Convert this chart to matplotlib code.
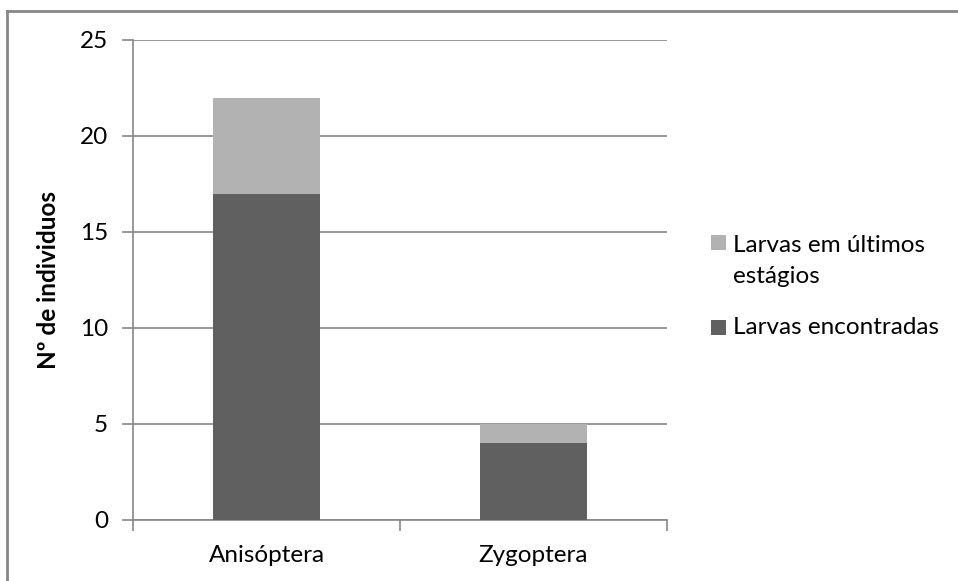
import matplotlib
matplotlib.use("Agg")
import matplotlib.pyplot as plt
from matplotlib.patches import Rectangle
from matplotlib.lines import Line2D

categories = ["Anisóptera", "Zygoptera"]
larvas_encontradas = [17, 4]
larvas_ultimos = [5, 1]
series_labels = ["Larvas encontradas", "Larvas em últimos\nestágios"]
y_ticks = [0, 5, 10, 15, 20, 25]

dark = "#606060"
light = "#b2b2b2"
line_grey = "#878787"
fs = 17.5

plt.rcParams["font.family"] = ["Lato", "DejaVu Sans"]

W, H = 958, 581
fig = plt.figure(figsize=(W / 100, H / 100), dpi=100)
ax = fig.add_axes([133 / W, 1 - 520 / H, (667 - 133) / W, (520 - 40) / H])

x = list(range(len(categories)))
ax.bar(x, larvas_encontradas, width=0.4, color=dark, zorder=3)
ax.bar(x, larvas_ultimos, width=0.4, bottom=larvas_encontradas, color=light, zorder=3)

ax.set_xlim(-0.5, len(categories) - 0.5)
ax.set_ylim(0, 25)
ax.set_yticks(y_ticks)
ax.yaxis.grid(True, color=line_grey, linewidth=1.2, zorder=0)
ax.tick_params(axis="y", length=8, width=1.2, color=line_grey, pad=10, labelsize=fs)

ax.set_xticks([i - 0.5 for i in range(len(categories) + 1)])
ax.set_xticklabels([])
ax.set_xticks(x, minor=True)
ax.set_xticklabels(categories, minor=True)
ax.tick_params(axis="x", which="major", length=8, width=1.2, color=line_grey)
ax.tick_params(axis="x", which="minor", length=0, pad=18, labelsize=fs)

for side in ["top", "right"]:
    ax.spines[side].set_visible(False)
for side in ["left", "bottom"]:
    ax.spines[side].set_color(line_grey)
    ax.spines[side].set_linewidth(1.2)

ax.set_ylabel("Nº de individuos", fontsize=fs, fontweight="bold")
ax.yaxis.set_label_coords(60 / W, 1 - 280 / H, transform=fig.transFigure)

# legend: square markers with labels, light series on top
sq = 15
legend_rows = [(light, series_labels[1], 242, 261), (dark, series_labels[0], 327, 327)]
for color, label, sq_y, text_y in legend_rows:
    fig.add_artist(Rectangle((711 / W, 1 - (sq_y + sq / 2) / H), sq / W, sq / H,
                             facecolor=color, edgecolor="none",
                             transform=fig.transFigure))
    fig.text(733 / W, 1 - text_y / H, label, fontsize=fs, va="center", ha="left",
             linespacing=1.6)

# outer chart border (top and left edges visible)
fig.add_artist(Line2D([7 / W, 7 / W], [0, 1 - 11 / H], color=line_grey,
                      linewidth=2, transform=fig.transFigure))
fig.add_artist(Line2D([7 / W, 1], [1 - 11 / H, 1 - 11 / H], color=line_grey,
                      linewidth=2, transform=fig.transFigure))

fig.savefig("out.png", dpi=100)
